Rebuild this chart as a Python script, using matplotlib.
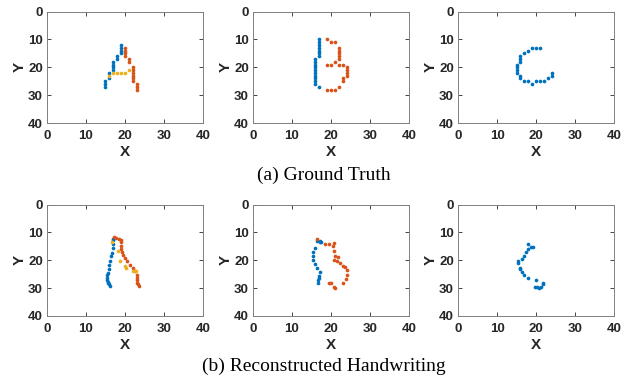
import matplotlib.pyplot as plt

# MATLAB default colours
c_blue = '#0072BD'
c_red = '#D95319'
c_yel = '#EDB120'

# ---- (a) ground truth ----
a_blue_x = [19, 19, 19, 19, 18, 18, 17, 17, 17, 17, 16, 16, 15, 15, 15]
a_blue_y = [12, 13, 14, 15, 16, 17, 18, 19, 20, 21, 22, 24, 25, 26, 27]
a_red_x = [20, 20, 20, 20, 21, 21, 22, 22, 22, 22, 22, 22, 23, 23, 23]
a_red_y = [13, 14, 15, 16, 17, 18, 20, 21, 22, 23, 24, 25, 26, 27, 28]
a_yel_x = [16, 17, 18, 19, 20, 21]
a_yel_y = [23, 22, 22, 22, 22, 21]

b_blue_x = [17] * 7 + [16] * 10 + [17]
b_blue_y = [10, 11, 12, 13, 14, 15, 16] + list(range(17, 27)) + [27]
b_red_x = [19, 20, 21, 22, 22, 22, 22, 22, 21, 19, 20, 22, 23,
           24, 24, 24, 24, 23, 23, 22, 21, 20, 19]
b_red_y = [10, 11, 11, 13, 14, 15, 16, 17, 18, 19, 19, 19, 19,
           20, 21, 22, 23, 24, 25, 27, 28, 28, 28]

c_blue_x = [21, 20, 19, 18, 17, 16, 16, 16, 15, 15, 15, 15, 16, 16,
            17, 18, 19, 20, 21, 22, 23, 24, 24]
c_blue_y = [13, 13, 13, 14, 15, 16, 17, 18, 19, 20, 21, 22, 23, 24,
            25, 25, 26, 25, 25, 25, 24, 23, 22]

# ---- (b) reconstructed ----
ra_blue_x = [17.0, 16.8, 16.8, 17.0, 16.6, 16.3, 16.1, 16.0, 15.8, 15.6,
             15.5, 15.5, 15.5, 15.6, 15.7, 15.9, 16.1]
ra_blue_y = [12.2, 12.6, 14.1, 15.6, 17.4, 18.6, 20.1, 21.6, 23.2, 24.6,
             25.4, 26.2, 27.0, 27.7, 28.2, 28.7, 29.2]
ra_red_x = [17.2, 17.8, 18.5, 18.9, 18.9, 18.9, 19.0, 19.3, 19.6, 20.0,
            20.6, 21.3, 22.1, 22.6, 23.0, 23.0, 23.1, 23.2, 23.4, 23.7]
ra_red_y = [11.8, 12.0, 12.2, 12.6, 13.6, 14.8, 16.0, 17.0, 18.0, 19.2,
            20.4, 21.6, 22.8, 24.0, 25.2, 26.2, 27.2, 28.0, 28.5, 29.4]
ra_yel_x = [16.7, 18.1, 18.8, 20.0, 20.3, 22.0, 22.8]
ra_yel_y = [13.5, 16.5, 20.1, 22.0, 22.8, 24.0, 23.8]

rb_blue_x = [16.5, 17.1, 17.5, 17.3, 15.9, 15.5, 15.3, 15.5, 15.9, 16.5,
             17.1, 17.0, 16.9, 16.8, 16.8]
rb_blue_y = [13.1, 13.4, 13.5, 13.0, 15.5, 17.1, 18.5, 19.9, 21.5, 22.7,
             24.2, 25.7, 26.5, 27.1, 28.0]
rb_red_x = [16.5, 18.5, 19.5, 20.8, 20.5, 20.8, 21.0, 20.8, 21.5, 21.9,
            22.2, 23.0, 23.6, 24.2, 24.0, 23.9, 23.0, 19.6, 19.9, 20.8, 21.1]
rb_red_y = [12.5, 14.0, 14.0, 13.8, 15.0, 16.5, 18.3, 19.9, 20.3, 19.0,
            20.9, 21.9, 22.3, 23.6, 25.4, 26.6, 28.3, 28.3, 28.3, 29.5, 30.0]

rc_blue_x = [18.0, 18.8, 19.1, 18.0, 17.4, 16.9, 16.3, 15.4, 15.4, 15.8,
             16.0, 16.5, 16.9, 18.0, 20.0, 19.7, 20.3, 20.8, 21.4, 21.7, 21.7]
rc_blue_y = [14.0, 15.2, 15.2, 15.9, 16.9, 18.3, 19.7, 20.3, 21.1, 22.7,
             23.0, 24.2, 25.4, 26.3, 27.1, 29.5, 29.5, 30.0, 29.5, 28.7, 28.1]

panels = [
    [(a_blue_x, a_blue_y, c_blue), (a_red_x, a_red_y, c_red), (a_yel_x, a_yel_y, c_yel)],
    [(b_blue_x, b_blue_y, c_blue), (b_red_x, b_red_y, c_red)],
    [(c_blue_x, c_blue_y, c_blue)],
    [(ra_blue_x, ra_blue_y, c_blue), (ra_red_x, ra_red_y, c_red), (ra_yel_x, ra_yel_y, c_yel)],
    [(rb_blue_x, rb_blue_y, c_blue), (rb_red_x, rb_red_y, c_red)],
    [(rc_blue_x, rc_blue_y, c_blue)],
]

lefts = [0.0753, 0.4054, 0.734]
bottoms = [0.682, 0.1835]

fig = plt.figure(figsize=(6.24, 3.87), dpi=100)
for i, strokes in enumerate(panels):
    ax = fig.add_axes([lefts[i % 3], bottoms[i // 3], 0.25, 0.288])
    for xs, ys, col in strokes:
        ax.scatter(xs, ys, s=7, color=col, linewidths=0, zorder=3)
    ax.set_xlim(0, 40)
    ax.set_ylim(40, 0)
    ax.set_xticks([0, 10, 20, 30, 40])
    ax.set_yticks([0, 10, 20, 30, 40])
    ax.tick_params(direction='in', top=True, right=True, length=3, width=0.6,
                   labelsize=9.5, colors='#262626')
    ax.tick_params(axis='x', pad=5)
    ax.tick_params(axis='y', pad=3)
    for lab in ax.get_xticklabels() + ax.get_yticklabels():
        lab.set_fontweight('bold')
        lab.set_family('Liberation Sans')
    for sp in ax.spines.values():
        sp.set_color('#808080')
        sp.set_linewidth(0.7)
    ax.set_xlabel('X', fontsize=11, fontweight='bold', color='#262626',
                  family='Liberation Sans', labelpad=2)
    ax.set_ylabel('Y', fontsize=11, fontweight='bold', color='#262626',
                  family='Liberation Sans', labelpad=1)

fig.text(0.519, 0.548, '(a) Ground Truth', ha='center', va='center',
         family='Liberation Serif', fontsize=14)
fig.text(0.519, 0.054, '(b) Reconstructed Handwriting', ha='center', va='center',
         family='Liberation Serif', fontsize=14)

fig.savefig('out.png', dpi=100)
